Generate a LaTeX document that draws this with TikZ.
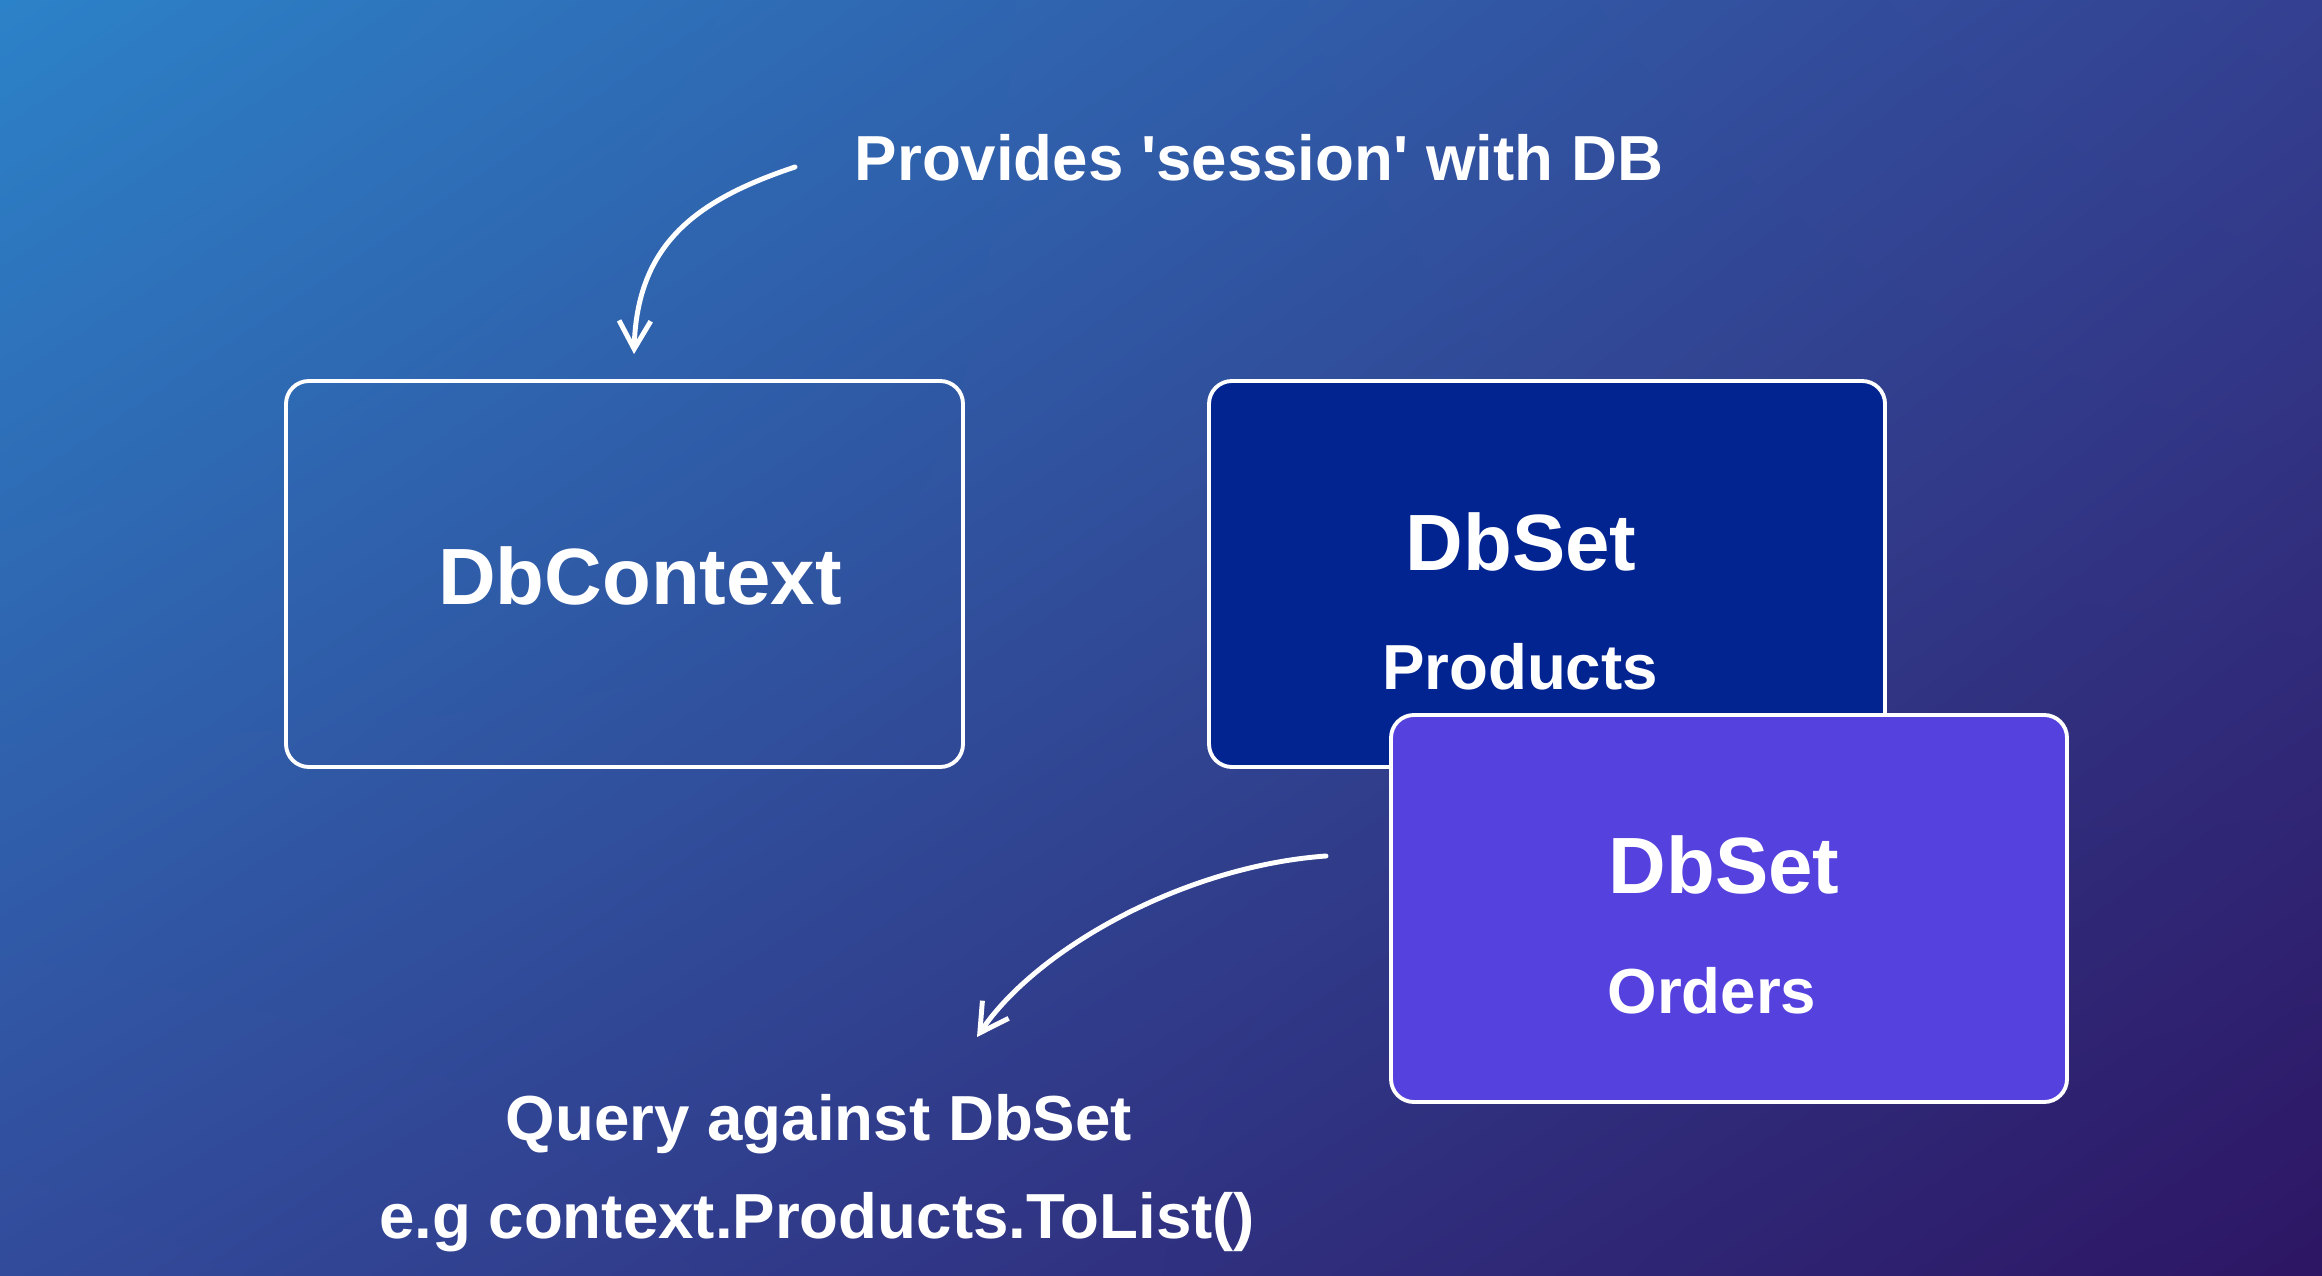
\documentclass[tikz,border=0pt]{standalone}
\usepackage{fontspec}
\setmainfont{Liberation Sans}
\usetikzlibrary{arrows.meta,shadings}
\definecolor{bgUL}{RGB}{44,130,200}
\definecolor{bgUR}{RGB}{52,64,145}
\definecolor{bgLL}{RGB}{50,75,155}
\definecolor{bgLR}{RGB}{45,22,100}
\definecolor{prodfill}{RGB}{2,36,145}
\definecolor{ordfill}{RGB}{85,65,222}
\tikzset{
  card/.style={draw=white, line width=1.1pt, rounded corners=6.5pt},
  bigtxt/.style={text=white, font=\fontsize{22.7}{27}\selectfont\bfseries, anchor=base, inner sep=0pt},
  smalltxt/.style={text=white, font=\fontsize{18.1}{22}\selectfont\bfseries, anchor=base, inner sep=0pt},
  curvearrow/.style={draw=white, line width=1.4pt, line cap=round, -{Straight Barb[length=8pt,width=9pt,line width=1.4pt]}}
}
\begin{document}
\begin{tikzpicture}[x=0.01cm,y=0.01cm]
  % background
  \shade[shading=bilinear interpolation, upper left=bgUL, upper right=bgUR, lower left=bgLL, lower right=bgLR]
    (0,0) rectangle (2322,1275);
  \useasboundingbox (0,0) rectangle (2322,1275);

  % boxes
  \draw[card] (286,508) rectangle (963,894);
  \draw[card, fill=prodfill] (1209,508) rectangle (1885,894);
  \draw[card, fill=ordfill] (1391,173) rectangle (2067,560);

  % texts
  \node[smalltxt] (session) at (1259,1094) {Provides \textquotesingle session\textquotesingle\ with DB};
  \node[bigtxt] (ctx) at (640,671) {DbContext};
  \node[bigtxt] (set1) at (1521,705) {DbSet};
  \node[smalltxt] (prod) at (1520,586) {Products};
  \node[bigtxt] (set2) at (1724,382) {DbSet};
  \node[smalltxt] (ord) at (1712,262) {Orders};
  \node[smalltxt] (query) at (819,135) {Query against DbSet};
  \node[smalltxt] (eg) at (817,37) {e.g context.Products.ToList()};

  % arrows
  \coordinate (a1s) at (795,1108);
  \coordinate (a1e) at (634,921);
  \draw[curvearrow] (a1s) .. controls (696,1075) and (637,1031) .. (a1e);
  \coordinate (a2s) at (1326,419);
  \coordinate (a2e) at (977,238);
  \draw[curvearrow] (a2s) .. controls (1185,409) and (1037,327) .. (a2e);
\end{tikzpicture}
\end{document}
